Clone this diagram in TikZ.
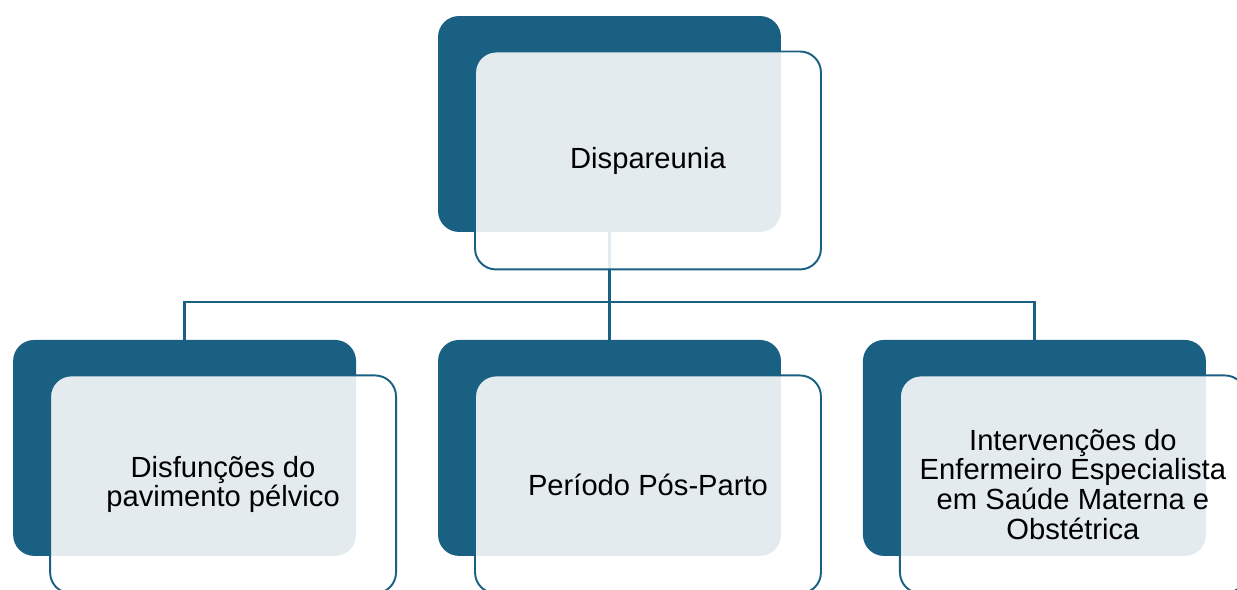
\documentclass[tikz,border=0pt]{standalone}
\usepackage{fontspec}
\setmainfont{Liberation Sans}
\usepackage{tikz}
\usetikzlibrary{positioning}
\definecolor{boxblue}{HTML}{1A6082}
\tikzset
{
    backbox/.style  = {rectangle, rounded corners=0.42cm, fill=boxblue, minimum width=6.86cm, minimum height=4.32cm},
    frontbox/.style = {rectangle, rounded corners=0.42cm, draw=boxblue, line width=1.1pt, fill=white, fill opacity=0.88, text opacity=1, align=center, minimum width=6.92cm, minimum height=4.36cm, font=\fontsize{16.6}{17}\selectfont}
}

\begin{document}
\begin{tikzpicture}[x=0.02cm, y=0.02cm, level distance=6.48cm, sibling distance=8.5cm,
    edge from parent path={(\tikzparentnode.center) -- ++(0,-3.56cm) -| (\tikzchildnode.center)}]
    \useasboundingbox (0,0) rectangle (1237,590);
    \clip (0,0) rectangle (1237,590);
    \draw [boxblue, line width=1.3pt] (609.5,466) node [backbox] (disp) {}
    child
    {
        node [backbox] (pelvico) {}
    }
    child
    {
        node [backbox] (posparto) {}
    }
    child
    {
        node [backbox] (eesmo) {}
    }
;
    \node [frontbox, on grid, below right=0.73cm and 0.77cm of disp] (dispF) {Dispareunia};
    \node [frontbox, on grid, below right=0.73cm and 0.77cm of pelvico] (pelvicoF) {Disfunções do\\ pavimento pélvico};
    \node [frontbox, on grid, below right=0.73cm and 0.77cm of posparto] (pospartoF) {Período Pós-Parto};
    \node [frontbox, on grid, below right=0.73cm and 0.77cm of eesmo] (eesmoF) {Intervenções do\\ Enfermeiro Especialista\\ em Saúde Materna e\\ Obstétrica};
\end{tikzpicture}
\end{document}
